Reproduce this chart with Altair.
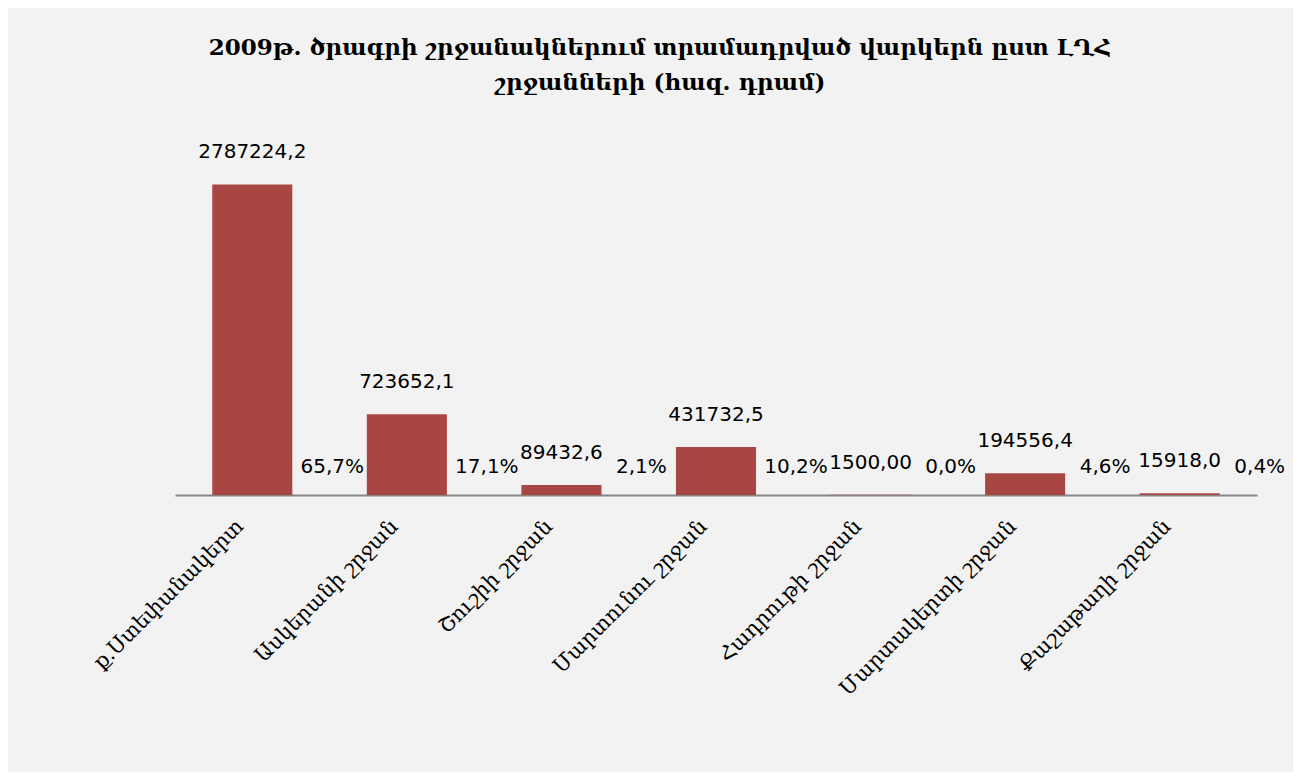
import altair as alt
import pandas as pd

regions = ["ք.Ստեփանակերտ", "Ասկերանի շրջան", "Շուշիի շրջան", "Մարտունու շրջան",
           "Հադրութի շրջան", "Մարտակերտի շրջան", "Քաշաթաղի շրջան"]
values = [2787224.2, 723652.1, 89432.6, 431732.5, 1500.00, 194556.4, 15918.0]
value_labels = ["2787224,2", "723652,1", "89432,6", "431732,5", "1500,00", "194556,4", "15918,0"]
percent_labels = ["65,7%", "17,1%", "2,1%", "10,2%", "0,0%", "4,6%", "0,4%"]

df = pd.DataFrame({
    "region": regions,
    "value": values,
    "vlabel": value_labels,
    "plabel": percent_labels,
    "zero": [0] * len(regions),
})

x = alt.X("region:N", sort=regions, title=None,
          scale=alt.Scale(paddingInner=0.482, paddingOuter=0.241),
          axis=alt.Axis(labelAngle=-45, labelAlign="right", labelBaseline="middle",
                        labelPadding=28, labelOffset=-12, labelFont="DejaVu Serif",
                        labelFontSize=21, labelColor="#000000", ticks=False,
                        domainColor="#868686", domainWidth=2, labelLimit=400))
y_scale = alt.Scale(domain=[0, 3500000], nice=False)

bars = alt.Chart(df).mark_bar(color="#a84644").encode(
    x=x,
    y=alt.Y("value:Q", scale=y_scale, axis=None),
)

vtext = alt.Chart(df).mark_text(font="DejaVu Sans", fontSize=20, dy=-32,
                                baseline="middle", color="#000000").encode(
    x=alt.X("region:N", sort=regions),
    y=alt.Y("value:Q", scale=y_scale),
    text="vlabel:N",
)

ptext = alt.Chart(df).mark_text(font="DejaVu Sans", fontSize=20, dx=80, dy=-28,
                                baseline="middle", color="#000000").encode(
    x=alt.X("region:N", sort=regions),
    y=alt.Y("zero:Q", scale=y_scale),
    text="plabel:N",
)

chart = alt.layer(bars, vtext, ptext).properties(
    width=1082,
    height=390,
    title=alt.TitleParams(
        text=["2009թ. ծրագրի շրջանակներում տրամադրված վարկերն ըստ ԼՂՀ",
              "շրջանների  (հազ. դրամ)"],
        font="DejaVu Serif", fontSize=23, fontWeight="bold", color="#000000",
        anchor="middle", dx=-56, offset=10, lineHeight=35,
    ),
    autosize=alt.AutoSizeParams(type="none"),
    padding={"left": 167, "top": 97, "right": 36, "bottom": 277},
    background="#f2f2f2",
).configure_view(stroke=None)

chart.save("out.html", embed_options={"renderer": "svg", "actions": False})
